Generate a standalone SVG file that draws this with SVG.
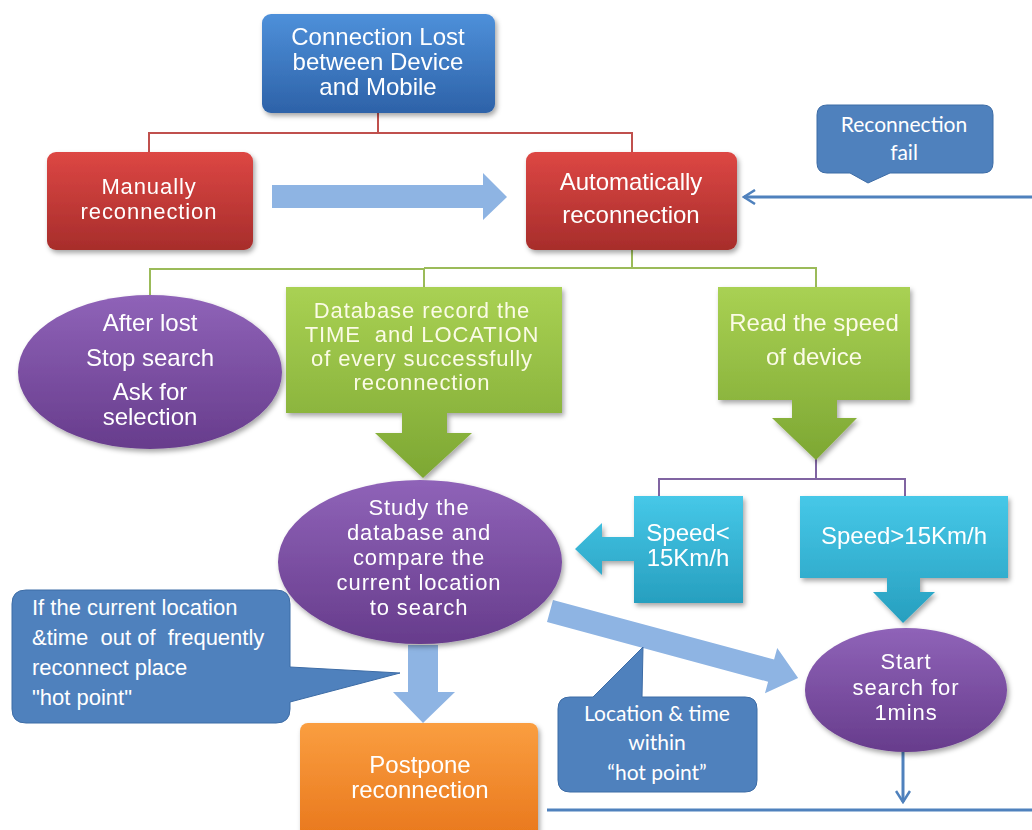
<svg xmlns="http://www.w3.org/2000/svg" width="1032" height="830" viewBox="0 0 1032 830">
<defs>
<linearGradient id="gBlue" x1="0" y1="0" x2="0" y2="1"><stop offset="0" stop-color="#4E90DA"/><stop offset="1" stop-color="#2D62A8"/></linearGradient>
<linearGradient id="gRed" x1="0" y1="0" x2="0" y2="1"><stop offset="0" stop-color="#DD4744"/><stop offset="1" stop-color="#A72D2B"/></linearGradient>
<linearGradient id="gGreen" x1="0" y1="0" x2="0" y2="1"><stop offset="0" stop-color="#A9D153"/><stop offset="1" stop-color="#7DA733"/></linearGradient>
<linearGradient id="gPurple" x1="0" y1="0" x2="0" y2="1"><stop offset="0" stop-color="#8F63B8"/><stop offset="1" stop-color="#673C8C"/></linearGradient>
<linearGradient id="gCyan" x1="0" y1="0" x2="0" y2="1"><stop offset="0" stop-color="#46C8E8"/><stop offset="1" stop-color="#279FBF"/></linearGradient>
<linearGradient id="gOrange" x1="0" y1="0" x2="0" y2="1"><stop offset="0" stop-color="#FA9E40"/><stop offset="1" stop-color="#E8761B"/></linearGradient>
<filter id="sh" x="-10%" y="-10%" width="125%" height="130%"><feDropShadow dx="2" dy="3" stdDeviation="2.5" flood-color="#000" flood-opacity="0.35"/></filter>
<marker id="open" viewBox="0 0 14 16" refX="12" refY="8" markerWidth="14" markerHeight="16" markerUnits="userSpaceOnUse" orient="auto"><path d="M1,1 L12,8 L1,15" fill="none" stroke="#4F81BD" stroke-width="2.5"/></marker>
<style>
.t{font-family:"Liberation Sans",Arial,sans-serif;font-size:24px;fill:#fff;text-anchor:middle;white-space:pre}
.s{font-size:22px;letter-spacing:0.9px}
.ty{fill:#FBFBE6}
.c{font-family:Lato,"Open Sans",sans-serif;font-size:21px;fill:#fff;text-anchor:middle}
.cl{font-family:"Liberation Sans",Arial,sans-serif;font-size:22px;fill:#fff;white-space:pre}
.lr{fill:none;stroke:#C0504D;stroke-width:2}
.lg{fill:none;stroke:#9BBB59;stroke-width:2}
.lp{fill:none;stroke:#8064A2;stroke-width:2}
.lb{fill:none;stroke:#4F81BD;stroke-width:3}
.call{fill:#4F81BD;stroke:#3D6CA6;stroke-width:1}
.la{fill:#8EB4E3}
</style>
</defs>

<g id="connectors">
<polyline class="lr" points="149,152 149,133 632,133 632,152"/>
<line class="lr" x1="378" y1="113" x2="378" y2="133"/>
<polyline class="lg" points="150,297 150,269 424,269 424,287"/>
<polyline class="lg" points="632,250 632,268 424,268"/>
<polyline class="lg" points="632,268 816,268 816,287"/>
<polyline class="lp" points="659,496 659,479 905,479 905,496"/>
<line class="lp" x1="816" y1="458" x2="816" y2="479"/>
<polygon class="la" points="272,185 483,185 483,173 507,197 483,220 483,208 272,208"/>
<polygon class="la" points="408,645 438,645 438,692 455,692 423,723 393,692 408,692"/>
<polygon class="la" transform="translate(550,611) rotate(15.1)" points="0,-11.5 229,-11.5 229,-23.5 257,0 229,23.5 229,11.5 0,11.5"/>
<line class="lb" x1="1032" y1="197" x2="744" y2="197" marker-end="url(#open)"/>
<line class="lb" x1="547" y1="810" x2="1032" y2="810"/>
<line class="lb" x1="903" y1="752" x2="903" y2="802" marker-end="url(#open)"/>
</g>

<g id="n-connection-lost" filter="url(#sh)">
<rect x="262" y="14" width="233" height="99" rx="9" fill="url(#gBlue)"/>
<text class="t" x="378" y="45">Connection Lost</text>
<text class="t" x="378" y="70">between Device</text>
<text class="t" x="378" y="95">and Mobile</text>
</g>

<g id="n-manual" filter="url(#sh)">
<rect x="47" y="152" width="206" height="98" rx="9" fill="url(#gRed)"/>
<text class="t s" x="149" y="194">Manually</text>
<text class="t s" x="149" y="219">reconnection</text>
</g>

<g id="n-auto" filter="url(#sh)">
<rect x="526" y="152" width="211" height="98" rx="9" fill="url(#gRed)"/>
<text class="t" x="631" y="190">Automatically</text>
<text class="t" x="631" y="223">reconnection</text>
</g>

<g id="n-reconnection-fail">
<path class="call" d="M827,105 H983 Q993,105 993,115 V163 Q993,173 983,173 H890 L868,183 L850,173 H827 Q817,173 817,163 V115 Q817,105 827,105 Z"/>
<text class="c" x="904" y="132">Reconnection</text>
<text class="c" x="904" y="160">fail</text>
</g>

<g id="n-after-lost" filter="url(#sh)">
<ellipse cx="150" cy="372" rx="132" ry="77" fill="url(#gPurple)"/>
<text class="t" x="150" y="331">After lost</text>
<text class="t" x="150" y="366">Stop search</text>
<text class="t" x="150" y="400">Ask for</text>
<text class="t" x="150" y="425">selection</text>
</g>

<g id="n-database" filter="url(#sh)">
<polygon fill="url(#gGreen)" points="286,287 562,287 562,413 447,413 447,433 472,433 423,478 375,433 402,433 402,413 286,413"/>
<text class="t s ty" x="422" y="318">Database record the</text>
<text class="t s ty" x="422" y="342">TIME  and LOCATION</text>
<text class="t s ty" x="422" y="366">of every successfully</text>
<text class="t s ty" x="422" y="390">reconnection</text>
</g>

<g id="n-read-speed" filter="url(#sh)">
<polygon fill="url(#gGreen)" points="718,287 910,287 910,400 837,400 837,418 857,418 816,460 772,418 792,418 792,400 718,400"/>
<text class="t ty" x="814" y="331">Read the speed</text>
<text class="t ty" x="814" y="365">of device</text>
</g>

<g id="n-study" filter="url(#sh)">
<ellipse cx="420" cy="562" rx="142" ry="82" fill="url(#gPurple)"/>
<text class="t s" x="419" y="515">Study the</text>
<text class="t s" x="419" y="540">database and</text>
<text class="t s" x="419" y="565">compare the</text>
<text class="t s" x="419" y="590">current location</text>
<text class="t s" x="419" y="615">to search</text>
</g>

<g id="n-speed-low" filter="url(#sh)">
<polygon fill="url(#gCyan)" points="634,496 743,496 743,603 634,603 634,561 602,561 602,575 575,549 602,523 602,537 634,537"/>
<text class="t" x="688" y="541">Speed&lt;</text>
<text class="t" x="688" y="566">15Km/h</text>
</g>

<g id="n-speed-high" filter="url(#sh)">
<polygon fill="url(#gCyan)" points="800,496 1008,496 1008,578 920,578 920,592 935,592 903,623 873,592 887,592 887,578 800,578"/>
<text class="t" x="904" y="544">Speed&gt;15Km/h</text>
</g>

<g id="n-hot-point-callout">
<path class="call" d="M26,590 H276 Q290,590 290,604 V667 L400,673 L290,702 V709 Q290,723 276,723 H26 Q12,723 12,709 V604 Q12,590 26,590 Z"/>
<text class="cl" x="32" y="615">If the current location</text>
<text class="cl" x="32" y="645">&amp;time  out of  frequently</text>
<text class="cl" x="32" y="675">reconnect place</text>
<text class="cl" x="32" y="705">"hot point"</text>
</g>

<g id="n-start-search" filter="url(#sh)">
<ellipse cx="906" cy="690" rx="101" ry="62" fill="url(#gPurple)"/>
<text class="t s" x="906" y="669">Start</text>
<text class="t s" x="906" y="695">search for</text>
<text class="t s" x="906" y="720">1mins</text>
</g>

<g id="n-location-callout">
<path class="call" d="M570,697 H593 L643,647 L642,697 H745 Q757,697 757,709 V780 Q757,792 745,792 H570 Q558,792 558,780 V709 Q558,697 570,697 Z"/>
<text class="c" x="657" y="721">Location &amp; time</text>
<text class="c" x="657" y="750">within</text>
<text class="c" x="657" y="780">“hot point”</text>
</g>

<g id="n-postpone" filter="url(#sh)">
<rect x="300" y="723" width="238" height="120" rx="8" fill="url(#gOrange)"/>
<text class="t" x="420" y="773">Postpone</text>
<text class="t" x="420" y="798">reconnection</text>
</g>
</svg>
